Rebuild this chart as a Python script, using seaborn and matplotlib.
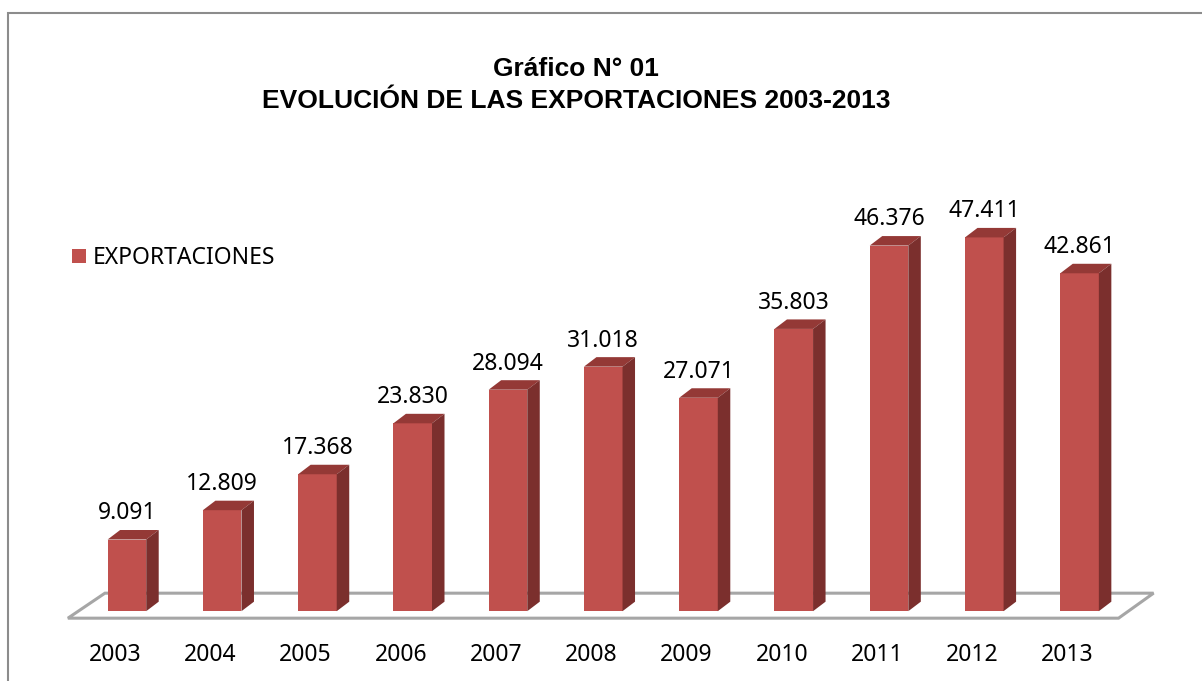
import matplotlib
matplotlib.use("Agg")
import matplotlib.pyplot as plt
import seaborn as sns
import pandas as pd
from matplotlib.patches import Polygon, Rectangle, Patch
from matplotlib.transforms import ScaledTranslation

# --- data ---
years = ['2003', '2004', '2005', '2006', '2007', '2008', '2009', '2010', '2011', '2012', '2013']
exports = [9.091, 12.809, 17.368, 23.830, 28.094, 31.018, 27.071, 35.803, 46.376, 47.411, 42.861]
series_name = 'EXPORTACIONES'
title_line1 = 'Gráfico N° 01'
title_line2 = 'EVOLUCIÓN DE LAS EXPORTACIONES 2003-2013'

df = pd.DataFrame({'year': years, 'value': exports})

FRONT = '#c0504d'
SIDE = '#7b2f2d'
TOP = '#943936'
FLOOR = '#a6a6a6'
W, H = 1202, 681

sns.set_theme(style='white')
plt.rcParams['font.family'] = ['Noto Sans', 'DejaVu Sans']
plt.rcParams['text.color'] = 'black'

fig = plt.figure(figsize=(W / 100, H / 100), dpi=100)
fig.patch.set_facecolor('white')

# axes placed in pixels so the fake 3D depth can be given in pixels
xlim = (-0.65, 10.75)
ylim = (-1.5, 50)
px_l, px_r, px_b, px_t = 65, 1151, 623, 217
ax = fig.add_axes([px_l / W, 1 - px_b / H, (px_r - px_l) / W, (px_b - px_t) / H])
sx = (px_r - px_l) / (xlim[1] - xlim[0])   # px per category
sy = (px_b - px_t) / (ylim[1] - ylim[0])   # px per unit

sns.barplot(data=df, x='year', y='value', color=FRONT, saturation=1, width=0.405,
            linewidth=0, edgecolor='none', ax=ax, zorder=3)
ax.set_xlim(*xlim)
ax.set_ylim(*ylim)

# depth of the bars (px -> data)
ddx, ddy = 12.5 / sx, 9.5 / sy

# floor parallelogram
n = len(years)
fx0, fx1 = -59 / sx, (n - 1) + 39 / sx
fy0, fy1 = -7 / sy, 18 / sy
floor = Polygon([(fx0, fy0), (fx1, fy0), (fx1 + 35 / sx, fy1), (fx0 + 37 / sx, fy1)],
                closed=True, fill=False, edgecolor=FLOOR, lw=2.2, zorder=1, clip_on=False)
ax.add_patch(floor)

for bar in list(ax.patches):
    if not isinstance(bar, Rectangle) or bar.get_height() <= 0:
        continue
    xl = bar.get_x()
    xr = xl + bar.get_width()
    h = bar.get_height()
    top = Polygon([(xl, h), (xr, h), (xr + ddx, h + ddy), (xl + ddx, h + ddy)],
                  closed=True, facecolor=TOP, edgecolor='none', zorder=3, clip_on=False)
    side = Polygon([(xr, 0), (xr, h), (xr + ddx, h + ddy), (xr + ddx, ddy)],
                   closed=True, facecolor=SIDE, edgecolor='none', zorder=3, clip_on=False)
    ax.add_patch(top)
    ax.add_patch(side)
    ax.annotate(f'{h:.3f}', (xl + bar.get_width() / 2, h), xytext=(0, 14.5),
                textcoords='offset points', ha='center', va='baseline',
                fontsize=16.5, color='black', annotation_clip=False)

# axes cosmetics
sns.despine(ax=ax, left=True, bottom=True)
ax.set_yticks([])
ax.set_xlabel('')
ax.set_ylabel('')
ax.tick_params(axis='x', length=0, pad=14.5, labelsize=16.5, colors='black')
shift = ScaledTranslation(-12 / 100, 0, fig.dpi_scale_trans)
for lbl in ax.get_xticklabels():
    lbl.set_transform(lbl.get_transform() + shift)

# legend
handle = Patch(facecolor=FRONT, edgecolor='none', label=series_name)
fig.legend(handles=[handle], loc='center left', bbox_to_anchor=(72 / W, 1 - 258 / H),
           frameon=False, fontsize=16.5, handlelength=0.6, handleheight=0.6,
           handletextpad=0.3, borderpad=0, borderaxespad=0, labelcolor='black')

# title
fig.text(576 / W, 1 - 76 / H, title_line1, ha='center', va='baseline', color='black',
         fontsize=19, fontweight='bold', family='Liberation Sans')
fig.text(576 / W, 1 - 108 / H, title_line2, ha='center', va='baseline', color='black',
         fontsize=19, fontweight='bold', family='Liberation Sans')

# outer chart border
fig.patches.append(Rectangle((8 / W, -0.5), 2, 1 - 13 / H + 0.5, transform=fig.transFigure,
                             fill=False, edgecolor='#8c8c8c', lw=1.5, figure=fig))

fig.savefig('out.png', dpi=100)
